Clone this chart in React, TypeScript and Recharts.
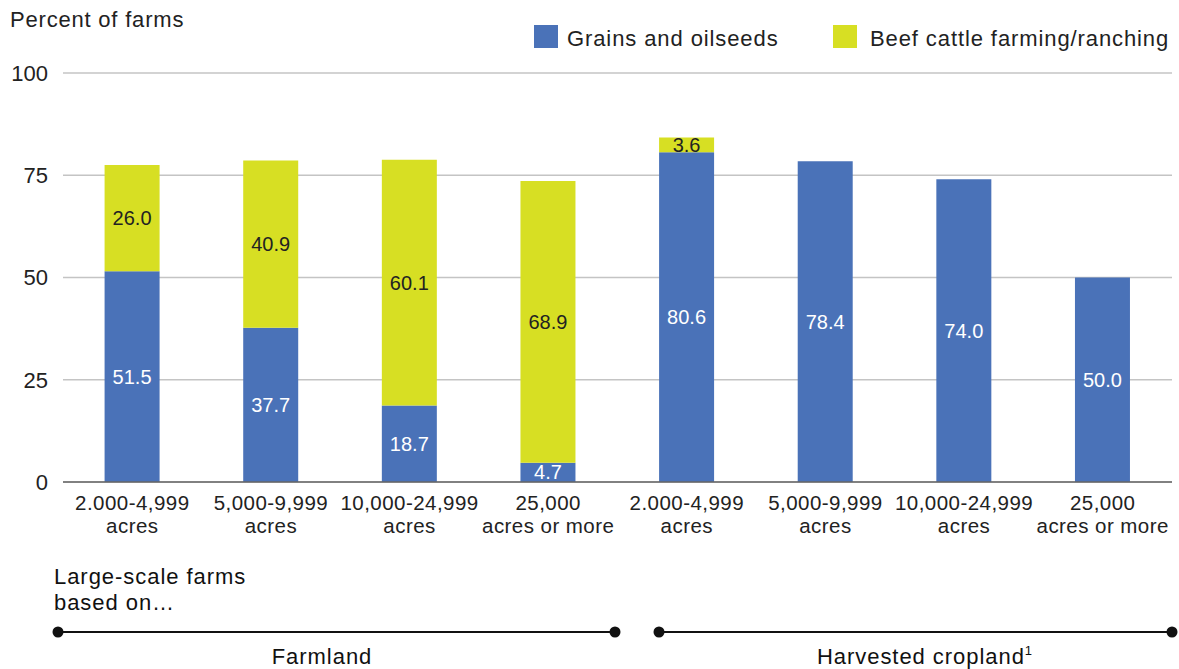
import { BarChart, Bar, XAxis, YAxis, CartesianGrid, LabelList } from 'recharts';

const sizeBands = [
  '2.000-4,999|acres',
  '5,000-9,999|acres',
  '10,000-24,999|acres',
  '25,000|acres or more',
  '2.000-4,999|acres',
  '5,000-9,999|acres',
  '10,000-24,999|acres',
  '25,000|acres or more',
];
const grainsValues = [51.5, 37.7, 18.7, 4.7, 80.6, 78.4, 74.0, 50.0];
const beefValues: (number | null)[] = [26.0, 40.9, 60.1, 68.9, 3.6, null, null, null];
const yTicks = [0, 25, 50, 75, 100];

const data = sizeBands.map((band, i) => ({
  band: `${band}#${i}`,
  grains: grainsValues[i],
  beef: beefValues[i],
}));

const FONT = '"Liberation Sans", Arial, Helvetica, sans-serif';
const BLUE = '#4a72b8';
const YELLOW = '#d7df23';
const TEXT = '#222222';

function BandTick(props: any) {
  const { x, y, payload } = props;
  const [l1, l2] = String(payload.value).split('#')[0].split('|');
  return (
    <text x={x} y={y} textAnchor="middle" fill={TEXT} fontSize={20.5} letterSpacing={0.45} fontFamily={FONT}>
      <tspan x={x} dy={20}>{l1}</tspan>
      <tspan x={x} dy={23}>{l2}</tspan>
    </text>
  );
}

export default function App() {
  return (
    <div style={{ position: 'absolute', left: 0, top: 0, width: 1179, height: 669, background: '#fff', fontFamily: FONT }}>
      <BarChart
        width={1179}
        height={669}
        data={data}
        margin={{ top: 73, right: 7, left: 8, bottom: 127 }}
        barCategoryGap="30%"
      >
        <CartesianGrid vertical={false} stroke="#c4c4c4" strokeWidth={1.5} />
        <XAxis
          dataKey="band"
          tick={<BandTick />}
          tickLine={false}
          axisLine={{ stroke: '#666', strokeWidth: 1.5 }}
          interval={0}
          height={60}
        />
        <YAxis
          domain={[0, 100]}
          ticks={yTicks}
          axisLine={false}
          tickLine={false}
          tickSize={0}
          tickMargin={15}
          width={55}
          tick={{ fill: TEXT, fontSize: 22, fontFamily: FONT }}
        />
        <Bar dataKey="grains" stackId="a" fill={BLUE} isAnimationActive={false}>
          <LabelList dataKey="grains" position="center" fill="#ffffff" fontSize={20} fontFamily={FONT} formatter={(v: any) => Number(v).toFixed(1)} />
        </Bar>
        <Bar dataKey="beef" stackId="a" fill={YELLOW} isAnimationActive={false}>
          <LabelList dataKey="beef" position="center" fill={TEXT} fontSize={20} fontFamily={FONT} formatter={(v: any) => (v == null ? '' : Number(v).toFixed(1))} />
        </Bar>
      </BarChart>

      <svg width={1179} height={669} style={{ position: 'absolute', left: 0, top: 0, pointerEvents: 'none' }}>
        <text x={10} y={27} fontSize={22} letterSpacing={0.8} fill={TEXT} fontFamily={FONT}>Percent of farms</text>

        <rect x={534} y={25} width={24} height={23} fill={BLUE} />
        <text x={567} y={46} fontSize={22} letterSpacing={0.9} fill={TEXT} fontFamily={FONT}>Grains and oilseeds</text>
        <rect x={833} y={25} width={24} height={23} fill={YELLOW} />
        <text x={870} y={46} fontSize={22} letterSpacing={0.9} fill={TEXT} fontFamily={FONT}>Beef cattle farming/ranching</text>

        <text x={54} y={584} fontSize={22} letterSpacing={0.95} fill="#111" fontFamily={FONT}>Large-scale farms</text>
        <text x={54} y={610} fontSize={22} letterSpacing={0.95} fill="#111" fontFamily={FONT}>based on…</text>

        <line x1={58} y1={632} x2={615} y2={632} stroke="#111" strokeWidth={2.2} />
        <circle cx={58} cy={632} r={5.5} fill="#111" />
        <circle cx={615} cy={632} r={5.5} fill="#111" />
        <text x={322} y={664} textAnchor="middle" fontSize={22} letterSpacing={0.95} fill="#111" fontFamily={FONT}>Farmland</text>

        <line x1={659} y1={632} x2={1172} y2={632} stroke="#111" strokeWidth={2.2} />
        <circle cx={659} cy={632} r={5.5} fill="#111" />
        <circle cx={1172} cy={632} r={5.5} fill="#111" />
        <text x={925} y={664} textAnchor="middle" fontSize={22} letterSpacing={0.95} fill="#111" fontFamily={FONT}>
          Harvested cropland<tspan fontSize={13} dy={-9}>1</tspan>
        </text>
      </svg>
    </div>
  );
}
